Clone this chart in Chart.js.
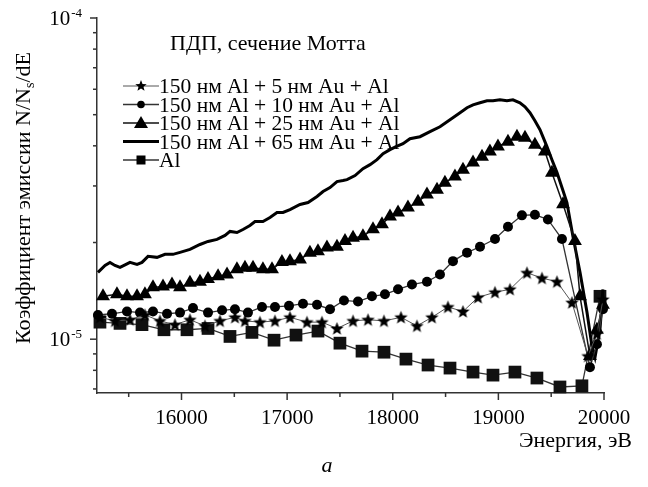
<!DOCTYPE html>
<html>
<head>
<meta charset="utf-8">
<script src="https://cdn.jsdelivr.net/npm/chart.js@4/dist/chart.umd.min.js"></script>
<style>
  html, body { margin: 0; padding: 0; background: #fff; }
</style>
</head>
<body>
<canvas id="chart" width="648" height="487"></canvas>
<script>
// энергия, эВ и коэффициент эмиссии для каждого образца
const e5 = [15228, 15370, 15512, 15654, 15796, 15938, 16080, 16222, 16364, 16506, 16601, 16743, 16885, 17027, 17188, 17330, 17472, 17624, 17766, 17917, 18078, 18229, 18371, 18523, 18665, 18807, 18968, 19110, 19271, 19413, 19555, 19697, 19848, 19933, 19990]
const y5 = [1.17e-5, 1.14e-5, 1.15e-5, 1.19e-5, 1.14e-5, 1.11e-5, 1.15e-5, 1.10e-5, 1.14e-5, 1.17e-5, 1.14e-5, 1.13e-5, 1.14e-5, 1.17e-5, 1.13e-5, 1.13e-5, 1.08e-5, 1.14e-5, 1.15e-5, 1.14e-5, 1.17e-5, 1.10e-5, 1.17e-5, 1.26e-5, 1.22e-5, 1.35e-5, 1.40e-5, 1.43e-5, 1.61e-5, 1.55e-5, 1.51e-5, 1.30e-5, 8.86e-6, 1.04e-5, 1.33e-5]

const e10 = [15209, 15342, 15484, 15607, 15730, 15863, 15986, 16109, 16251, 16384, 16506, 16629, 16762, 16885, 17018, 17150, 17283, 17406, 17538, 17671, 17803, 17926, 18050, 18182, 18324, 18447, 18570, 18703, 18826, 18968, 19091, 19223, 19346, 19469, 19602, 19867, 19933, 19990]
const y10 = [1.19e-5, 1.20e-5, 1.22e-5, 1.21e-5, 1.22e-5, 1.20e-5, 1.21e-5, 1.25e-5, 1.21e-5, 1.23e-5, 1.24e-5, 1.21e-5, 1.26e-5, 1.26e-5, 1.27e-5, 1.29e-5, 1.28e-5, 1.24e-5, 1.32e-5, 1.31e-5, 1.36e-5, 1.38e-5, 1.43e-5, 1.48e-5, 1.51e-5, 1.59e-5, 1.75e-5, 1.86e-5, 1.94e-5, 2.05e-5, 2.24e-5, 2.43e-5, 2.44e-5, 2.36e-5, 2.05e-5, 8.18e-6, 9.65e-6, 1.24e-5]

const e25 = [15257, 15389, 15484, 15579, 15654, 15730, 15825, 15910, 15986, 16080, 16175, 16251, 16346, 16431, 16525, 16601, 16677, 16771, 16857, 16951, 17027, 17122, 17216, 17292, 17377, 17472, 17548, 17624, 17718, 17813, 17898, 17974, 18050, 18144, 18239, 18324, 18419, 18494, 18589, 18665, 18760, 18845, 18920, 18996, 19091, 19176, 19252, 19346, 19441, 19507, 19612, 19725, 19773, 19867, 19933, 19990]
const y25 = [1.36e-5, 1.38e-5, 1.36e-5, 1.36e-5, 1.38e-5, 1.45e-5, 1.46e-5, 1.48e-5, 1.45e-5, 1.50e-5, 1.51e-5, 1.54e-5, 1.57e-5, 1.59e-5, 1.65e-5, 1.67e-5, 1.67e-5, 1.65e-5, 1.65e-5, 1.74e-5, 1.75e-5, 1.77e-5, 1.86e-5, 1.88e-5, 1.93e-5, 1.94e-5, 2.02e-5, 2.07e-5, 2.09e-5, 2.20e-5, 2.28e-5, 2.41e-5, 2.48e-5, 2.57e-5, 2.68e-5, 2.82e-5, 2.92e-5, 3.07e-5, 3.21e-5, 3.37e-5, 3.55e-5, 3.70e-5, 3.84e-5, 3.98e-5, 4.12e-5, 4.27e-5, 4.24e-5, 4.03e-5, 3.84e-5, 3.30e-5, 2.63e-5, 2.02e-5, 1.36e-5, 8.86e-6, 1.07e-5, 1.28e-5]

const e65 = [15209, 15276, 15323, 15370, 15418, 15475, 15512, 15579, 15626, 15683, 15768, 15844, 15919, 15986, 16080, 16175, 16251, 16336, 16412, 16459, 16525, 16582, 16648, 16696, 16771, 16838, 16904, 16961, 17027, 17122, 17198, 17283, 17340, 17406, 17472, 17529, 17567, 17643, 17718, 17785, 17851, 17908, 17974, 18031, 18097, 18163, 18258, 18353, 18447, 18542, 18637, 18703, 18760, 18826, 18892, 18949, 19015, 19081, 19138, 19204, 19252, 19299, 19346, 19394, 19460, 19507, 19555, 19602, 19649, 19706, 19773, 19839, 19886, 19915, 19962, 19990]
const y65 = [1.615e-5, 1.697e-5, 1.734e-5, 1.697e-5, 1.673e-5, 1.710e-5, 1.734e-5, 1.710e-5, 1.734e-5, 1.811e-5, 1.798e-5, 1.837e-5, 1.837e-5, 1.863e-5, 1.903e-5, 1.972e-5, 2.015e-5, 2.045e-5, 2.104e-5, 2.165e-5, 2.149e-5, 2.196e-5, 2.259e-5, 2.325e-5, 2.325e-5, 2.392e-5, 2.480e-5, 2.480e-5, 2.533e-5, 2.626e-5, 2.664e-5, 2.781e-5, 2.882e-5, 2.965e-5, 3.096e-5, 3.118e-5, 3.140e-5, 3.231e-5, 3.397e-5, 3.495e-5, 3.622e-5, 3.781e-5, 3.892e-5, 3.976e-5, 4.062e-5, 4.209e-5, 4.270e-5, 4.426e-5, 4.587e-5, 4.822e-5, 5.070e-5, 5.254e-5, 5.368e-5, 5.445e-5, 5.524e-5, 5.524e-5, 5.564e-5, 5.524e-5, 5.564e-5, 5.445e-5, 5.291e-5, 5.070e-5, 4.787e-5, 4.489e-5, 3.976e-5, 3.622e-5, 3.301e-5, 2.965e-5, 2.664e-5, 2.089e-5, 1.615e-5, 1.213e-5, 9.51e-6, 8.79e-6, 1.074e-5, 1.430e-5]

const eAl = [15228, 15418, 15626, 15834, 16052, 16251, 16459, 16667, 16876, 17084, 17292, 17500, 17709, 17917, 18125, 18334, 18542, 18760, 18949, 19157, 19365, 19583, 19791, 19962]
const yAl = [1.13e-5, 1.12e-5, 1.11e-5, 1.07e-5, 1.07e-5, 1.08e-5, 1.02e-5, 1.05e-5, 9.93e-6, 1.03e-5, 1.06e-5, 9.72e-6, 9.18e-6, 9.11e-6, 8.67e-6, 8.31e-6, 8.13e-6, 7.90e-6, 7.73e-6, 7.90e-6, 7.57e-6, 7.10e-6, 7.16e-6, 1.36e-5]

const seriesNames = ['150 нм Al + 5 нм Au + Al', '150 нм Al + 10 нм Au + Al', '150 нм Al + 25 нм Au + Al', '150 нм Al + 65 нм Au + Al', 'Al']

const xMajorTicks = [16000, 17000, 18000, 19000, 20000]
const xMinorTicks = [15500, 16500, 17500, 18500, 19500]
const yMajorTicks = [1e-5, 1e-4]
const yTickExponents = ['-5', '-4']
const yMinorTicks = [7e-6, 8e-6, 9e-6, 2e-5, 3e-5, 4e-5, 5e-5, 6e-5, 7e-5, 8e-5, 9e-5]

const chartTitle = 'ПДП, сечение Мотта'
const xTitle = 'Энергия, эВ'
const panelLabel = 'a'

// ищем установленный шрифт с засечками
const pickFont = names => {
    let g = document.createElement('canvas').getContext('2d')
    let probe = 'Коэффициент 150 нм Al + dE'
    g.font = '20px monospace'
    let base = g.measureText(probe).width
    for (let n of names) {
        g.font = `20px "${n}", monospace`
        if (Math.abs(g.measureText(probe).width - base) > 0.5) return `"${n}", serif`
    }
    return 'serif'
}
const serif = pickFont(['Liberation Serif', 'Tinos', 'Times New Roman', 'DejaVu Serif', 'Noto Serif'])

const toPoints = (xs, ys) => xs.map((x, i) => ({x, y: ys[i]}))

const drawStar = (ctx, x, y, rOut, rIn) => {
    ctx.beginPath()
    for (let i = 0; i < 10; i++) {
        let r = i % 2 === 0 ? rOut : rIn
        let a = -Math.PI / 2 + i * Math.PI / 5
        ctx.lineTo(x + r * Math.cos(a), y + r * Math.sin(a))
    }
    ctx.closePath()
    ctx.fill()
}

// пятиконечная звезда как pointStyle
const starImage = (() => {
    let c = document.createElement('canvas')
    c.width = 15
    c.height = 15
    let g = c.getContext('2d')
    g.fillStyle = '#000'
    drawStar(g, 7.5, 8, 7, 3)
    return c
})()

const strokeLine = (ctx, x1, y1, x2, y2) => {
    ctx.beginPath()
    ctx.moveTo(x1, y1)
    ctx.lineTo(x2, y2)
    ctx.stroke()
}

const decor = {
    id: 'decor',
    afterDraw(chart) {
        const {ctx, chartArea: area, scales: {x, y}} = chart
        ctx.save()

        // засечки осей наружу
        ctx.strokeStyle = '#333'
        ctx.lineWidth = 1.5
        xMajorTicks.forEach(v => { let px = x.getPixelForValue(v); strokeLine(ctx, px, area.bottom, px, area.bottom + 7) })
        xMinorTicks.forEach(v => { let px = x.getPixelForValue(v); strokeLine(ctx, px, area.bottom, px, area.bottom + 4) })
        yMajorTicks.forEach(v => { let py = y.getPixelForValue(v); strokeLine(ctx, area.left - 7, py, area.left, py) })
        yMinorTicks.forEach(v => { let py = y.getPixelForValue(v); strokeLine(ctx, area.left - 4, py, area.left, py) })

        ctx.fillStyle = '#000'
        ctx.textBaseline = 'alphabetic'

        // подписи по X
        ctx.font = `21px ${serif}`
        ctx.textAlign = 'center'
        xMajorTicks.forEach(v => ctx.fillText(String(v), x.getPixelForValue(v), area.bottom + 31))

        // подписи по Y: 10 со степенью
        yMajorTicks.forEach((v, i) => {
            let py = y.getPixelForValue(v)
            ctx.textAlign = 'right'
            ctx.font = `13px ${serif}`
            ctx.fillText(yTickExponents[i], 82, py - 1)
            let supW = ctx.measureText(yTickExponents[i]).width
            ctx.font = `21px ${serif}`
            ctx.fillText('10', 82 - supW - 1, py + 7)
        })

        // заголовок оси X и метка панели
        ctx.font = `22px ${serif}`
        ctx.textAlign = 'right'
        ctx.fillText(xTitle, 632, area.bottom + 54)
        ctx.font = `italic 22px ${serif}`
        ctx.textAlign = 'center'
        ctx.fillText(panelLabel, 327, area.bottom + 79)

        // заголовок оси Y с нижним индексом
        ctx.save()
        ctx.translate(30, 198)
        ctx.rotate(-Math.PI / 2)
        let parts = [['Коэффициент эмиссии N/N', 22, 0], ['s', 14, 4], ['/dE', 22, 0]]
        let total = 0
        parts.forEach(p => { ctx.font = `${p[1]}px ${serif}`; total += ctx.measureText(p[0]).width })
        let cx = -total / 2
        ctx.textAlign = 'left'
        parts.forEach(p => {
            ctx.font = `${p[1]}px ${serif}`
            ctx.fillText(p[0], cx, p[2])
            cx += ctx.measureText(p[0]).width
        })
        ctx.restore()

        // заголовок внутри графика
        ctx.font = `22px ${serif}`
        ctx.textAlign = 'left'
        ctx.fillText(chartTitle, 170, 50)

        // легенда
        chart.data.datasets.forEach((ds, i) => {
            let cy = 86 + i * 18.5
            ctx.strokeStyle = ds.borderColor
            ctx.lineWidth = ds.borderWidth
            strokeLine(ctx, 123, cy, 159, cy)
            ctx.fillStyle = '#000'
            if (i === 0) drawStar(ctx, 141, cy, 6, 2.6)
            if (i === 1) { ctx.beginPath(); ctx.arc(141, cy, 3.8, 0, Math.PI * 2); ctx.fill() }
            if (i === 2) { ctx.beginPath(); ctx.moveTo(141, cy - 7); ctx.lineTo(148, cy + 5); ctx.lineTo(134, cy + 5); ctx.closePath(); ctx.fill() }
            if (i === 4) ctx.fillRect(136.5, cy - 4.5, 9, 9)
            ctx.font = `21.5px ${serif}`
            ctx.fillText(ds.label, 159, cy + 7)
        })

        ctx.restore()
    }
}

new Chart(document.getElementById('chart'), {
    type: 'line',
    data: {
        datasets: [
            {
                label: seriesNames[0],
                data: toPoints(e5, y5),
                borderColor: '#555',
                borderWidth: 1,
                pointStyle: starImage,
                pointRadius: 7,
                backgroundColor: '#000'
            },
            {
                label: seriesNames[1],
                data: toPoints(e10, y10),
                borderColor: '#333',
                borderWidth: 1.3,
                pointStyle: 'circle',
                pointRadius: 5,
                pointBorderWidth: 0,
                backgroundColor: '#000'
            },
            {
                label: seriesNames[2],
                data: toPoints(e25, y25),
                borderColor: '#111',
                borderWidth: 1.5,
                pointStyle: 'triangle',
                pointRadius: 8,
                pointBorderWidth: 0,
                backgroundColor: '#000'
            },
            {
                label: seriesNames[3],
                data: toPoints(e65, y65),
                borderColor: '#000',
                borderWidth: 3,
                pointRadius: 0,
                backgroundColor: '#000'
            },
            {
                label: seriesNames[4],
                data: toPoints(eAl, yAl),
                borderColor: '#333',
                borderWidth: 1.3,
                pointStyle: 'rect',
                pointRadius: 9,
                pointBorderWidth: 0,
                backgroundColor: '#111'
            }
        ]
    },
    options: {
        responsive: false,
        animation: false,
        clip: false,
        layout: {padding: {top: 18, right: 44, left: 0, bottom: 0}},
        plugins: {legend: {display: false}, tooltip: {enabled: false}},
        elements: {line: {tension: 0}},
        scales: {
            x: {
                type: 'linear',
                min: 15200,
                max: 20000,
                ticks: {display: false},
                grid: {display: false},
                border: {color: '#333', width: 1.5},
                afterFit: s => { s.height = 94 }
            },
            y: {
                type: 'logarithmic',
                min: 6.8e-6,
                max: 1e-4,
                ticks: {display: false},
                grid: {display: false},
                border: {color: '#333', width: 1.5},
                afterFit: s => { s.width = 97 }
            }
        }
    },
    plugins: [decor]
})
</script>
</body>
</html>
